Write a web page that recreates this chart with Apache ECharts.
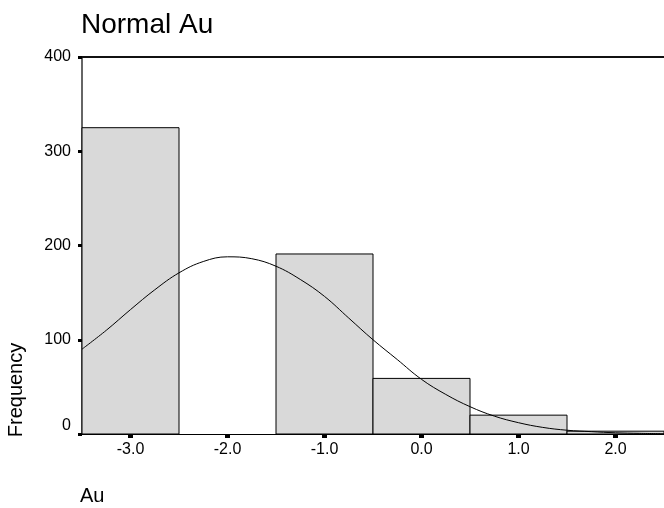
<!DOCTYPE html>
<html>
<head>
<meta charset="utf-8">
<script src="https://cdn.jsdelivr.net/npm/echarts@6/dist/echarts.min.js"></script>
<style>
  html, body { margin: 0; padding: 0; background: #fff; }
  #chart { width: 664px; height: 508px; }
</style>
</head>
<body>
<div id="chart"></div>
<script>
// Histogram of Au (bin width 1.0) with its fitted normal curve
const binCenters = [-3.0, -2.0, -1.0, 0.0, 1.0, 2.0];
const binCounts  = [325, 0, 191, 59, 20, 3];
const binWidth = 1.0;

// Normal curve heights (frequency scale) at evenly spaced Au values
const curveX = [-3.5, -3.25, -3.0, -2.75, -2.5, -2.25, -2.0, -1.75, -1.5, -1.25, -1.0, -0.75,
                -0.5, -0.25, 0.0, 0.25, 0.5, 0.75, 1.0, 1.25, 1.5, 1.75, 2.0, 2.25, 2.5];
const curveY = [90, 110, 132, 153, 171, 183, 188, 186, 178, 164, 146, 123,
                100, 79, 58, 42, 29, 19, 12, 7, 4, 2.5, 1.3, 0.7, 0.3];

const xTicks = [-3.0, -2.0, -1.0, 0.0, 1.0, 2.0];

const FONT = '"Liberation Sans", Arial, sans-serif';

const chart = echarts.init(document.getElementById('chart'), null, { renderer: 'canvas' });

chart.setOption({
  animation: false,
  backgroundColor: '#ffffff',
  title: {
    text: 'Normal Au',
    left: 81,
    top: 11,
    padding: 0,
    textStyle: { fontFamily: FONT, fontSize: 28, fontWeight: 'normal', color: '#000' }
  },
  graphic: [
    {
      type: 'text',
      x: 16,
      y: 390,
      rotation: Math.PI / 2,
      style: {
        text: 'Frequency',
        font: '20px ' + FONT,
        fill: '#000',
        align: 'center',
        verticalAlign: 'middle'
      }
    },
    {
      type: 'text',
      x: 80,
      y: 496,
      style: {
        text: 'Au',
        font: '20px ' + FONT,
        fill: '#000',
        align: 'left',
        verticalAlign: 'middle'
      }
    }
  ],
  grid: { left: 82, right: -2, top: 57, bottom: 74 },
  xAxis: [
    {
      type: 'value',
      min: -3.5,
      max: 2.5,
      splitLine: { show: false },
      axisLine: { show: true, onZero: false, lineStyle: { color: '#000', width: 1 } },
      axisTick: {
        show: true,
        customValues: xTicks,
        length: 4,
        lineStyle: { color: '#000', width: 5 }
      },
      axisLabel: {
        customValues: xTicks,
        formatter: v => v.toFixed(1),
        margin: 8,
        fontFamily: FONT,
        fontSize: 16,
        color: '#000'
      }
    },
    {
      type: 'value',
      position: 'top',
      min: -3.5,
      max: 2.5,
      splitLine: { show: false },
      axisLine: { show: true, onZero: false, lineStyle: { color: '#111', width: 2 } },
      axisTick: { show: false },
      axisLabel: { show: false }
    }
  ],
  yAxis: {
    type: 'value',
    min: 0,
    max: 400,
    interval: 100,
    splitLine: { show: false },
    axisLine: { show: true, onZero: false, lineStyle: { color: '#333', width: 1.5 } },
    axisTick: {
      show: true,
      length: 4,
      lineStyle: { color: '#000', width: 3 }
    },
    axisLabel: {
      margin: 11,
      fontFamily: FONT,
      fontSize: 16,
      color: '#000',
      formatter: v => (v === 0 ? '{zero|0}' : String(v)),
      rich: {
        zero: { fontFamily: FONT, fontSize: 16, color: '#000', padding: [0, 0, 16, 0] }
      }
    }
  },
  series: [
    {
      type: 'custom',
      xAxisIndex: 0,
      data: binCenters.map((c, i) => [c, binCounts[i]]),
      renderItem: (params, api) => {
        const c = api.value(0);
        const v = api.value(1);
        if (!v) return null;
        const p0 = api.coord([c - binWidth / 2, v]);
        const p1 = api.coord([c + binWidth / 2, 0]);
        return {
          type: 'rect',
          shape: { x: p0[0], y: p0[1], width: p1[0] - p0[0], height: p1[1] - p0[1] },
          style: { fill: '#d9d9d9', stroke: '#000', lineWidth: 1 }
        };
      },
      z: 2
    },
    {
      type: 'line',
      xAxisIndex: 0,
      data: curveX.map((x, i) => [x, curveY[i]]),
      smooth: 0.4,
      showSymbol: false,
      lineStyle: { color: '#000', width: 1 },
      z: 3
    }
  ]
});
</script>
</body>
</html>
